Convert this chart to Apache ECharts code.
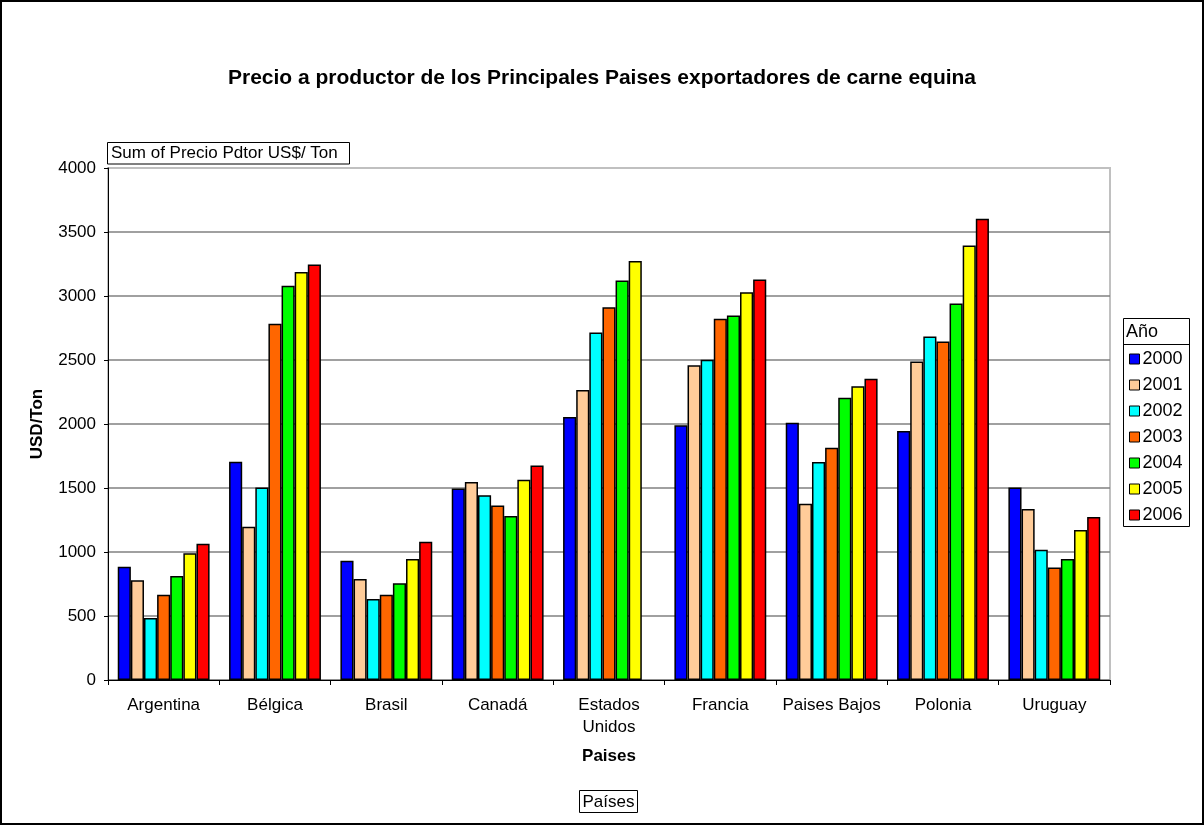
<!DOCTYPE html>
<html>
<head>
<meta charset="utf-8">
<script src="https://cdn.jsdelivr.net/npm/echarts@6/dist/echarts.min.js"></script>
<style>
html,body{margin:0;padding:0;background:#fff;}
#chart{width:1204px;height:825px;}
</style>
</head>
<body>
<div id="chart"></div>
<script>
const categories = ['Argentina', 'Bélgica', 'Brasil', 'Canadá', 'Estados\nUnidos', 'Francia', 'Paises Bajos', 'Polonia', 'Uruguay'];
const years = ['2000', '2001', '2002', '2003', '2004', '2005', '2006'];
const yearColors = ['#0000FF', '#FFCC99', '#00FFFF', '#FF6600', '#00FF00', '#FFFF00', '#FF0000'];
const v2000 = [885, 1705, 931, 1496, 2054, 1991, 2009, 1946, 1504];
const v2001 = [780, 1198, 790, 1547, 2266, 2459, 1377, 2488, 1335];
const v2002 = [484, 1504, 632, 1443, 2715, 2501, 1703, 2683, 1018];
const v2003 = [666, 2784, 666, 1364, 2913, 2823, 1814, 2644, 878];
const v2004 = [812, 3080, 756, 1282, 3122, 2847, 2205, 2942, 946];
const v2005 = [991, 3188, 946, 1565, 3273, 3030, 2295, 3395, 1171];
const v2006 = [1065, 3247, 1081, 1676, null, 3128, 2353, 3603, 1274];
const seriesValues = [v2000, v2001, v2002, v2003, v2004, v2005, v2006];
const yTicks = [0, 500, 1000, 1500, 2000, 2500, 3000, 3500, 4000];

const FONT = '"Liberation Sans", Arial, sans-serif';
const chart = echarts.init(document.getElementById('chart'), null, {renderer: 'canvas'});

const series = years.map((y, i) => ({
  name: y,
  type: 'bar',
  data: seriesValues[i],
  barGap: '0%',
  barCategoryGap: '17.5%',
  itemStyle: {color: yearColors[i], borderColor: '#000', borderWidth: 1.5},
  emphasis: {disabled: true}
}));

chart.setOption({
  animation: false,
  backgroundColor: '#fff',
  textStyle: {fontFamily: FONT},
  title: {
    text: 'Precio a productor de los Principales Paises exportadores de carne equina',
    left: 'center',
    top: 63,
    textStyle: {fontFamily: FONT, fontSize: 21, fontWeight: 'bold', color: '#000'}
  },
  grid: {
    left: 108, right: 94, top: 168, bottom: 145,
    show: true, borderColor: '#c0c0c0', borderWidth: 2, backgroundColor: '#fff'
  },
  legend: {
    orient: 'vertical',
    left: 1124,
    top: 345,
    icon: 'rect',
    itemWidth: 10,
    itemHeight: 10,
    itemGap: 8,
    data: years,
    textStyle: {fontFamily: FONT, fontSize: 18, color: '#000', lineHeight: 18, padding: [0, 0, 0, -2]},
    itemStyle: {borderColor: '#000', borderWidth: 1}
  },
  xAxis: {
    type: 'category',
    data: categories,
    name: 'Paises',
    nameLocation: 'middle',
    nameGap: 68,
    nameTextStyle: {fontFamily: FONT, fontSize: 17, fontWeight: 'bold', color: '#000', verticalAlign: 'top'},
    axisLine: {show: true, lineStyle: {color: '#000', width: 1}},
    axisTick: {show: true, length: 5, lineStyle: {color: '#000'}},
    axisLabel: {interval: 0, margin: 14, fontFamily: FONT, fontSize: 17, color: '#000', lineHeight: 22}
  },
  yAxis: {
    type: 'value',
    min: 0,
    max: 4000,
    interval: 500,
    name: 'USD/Ton',
    nameLocation: 'middle',
    nameGap: 62,
    nameTextStyle: {fontFamily: FONT, fontSize: 17, fontWeight: 'bold', color: '#000'},
    axisLine: {show: true, lineStyle: {color: '#000', width: 1}},
    axisTick: {show: true, length: 4, lineStyle: {color: '#000'}},
    axisLabel: {margin: 12, fontFamily: FONT, fontSize: 17, color: '#000',
      formatter: v => yTicks.includes(v) ? String(v) : ''},
    splitLine: {show: true, showMaxLine: false, lineStyle: {color: '#808080', width: 1.5}}
  },
  series: series,
  graphic: [
    {type: 'rect', silent: true, z: 100, shape: {x: 1, y: 1, width: 1202, height: 823},
      style: {fill: 'none', stroke: '#000', lineWidth: 2}},
    {type: 'rect', silent: true, z: 100, shape: {x: 107.5, y: 142.5, width: 242, height: 21.5},
      style: {fill: '#fff', stroke: '#000', lineWidth: 1}},
    {type: 'text', silent: true, z: 101, x: 111, y: 153.5,
      style: {text: 'Sum of Precio Pdtor US$/ Ton', font: '17px ' + FONT, fill: '#000', textVerticalAlign: 'middle'}},
    {type: 'rect', silent: true, z: 100, shape: {x: 579.5, y: 790.5, width: 58, height: 22},
      style: {fill: '#fff', stroke: '#000', lineWidth: 1}},
    {type: 'text', silent: true, z: 101, x: 608.5, y: 802,
      style: {text: 'Países', font: '17px ' + FONT, fill: '#000', textAlign: 'center', textVerticalAlign: 'middle'}},
    {type: 'rect', silent: true, z: 0, shape: {x: 1123.5, y: 318.5, width: 66, height: 208},
      style: {fill: '#fff', stroke: '#000', lineWidth: 1}},
    {type: 'line', silent: true, z: 1, shape: {x1: 1123.5, y1: 344.5, x2: 1189.5, y2: 344.5},
      style: {stroke: '#000', lineWidth: 1}},
    {type: 'text', silent: true, z: 101, x: 1126, y: 332,
      style: {text: 'Año', font: '18px ' + FONT, fill: '#000', textVerticalAlign: 'middle'}}
  ]
});
</script>
</body>
</html>
